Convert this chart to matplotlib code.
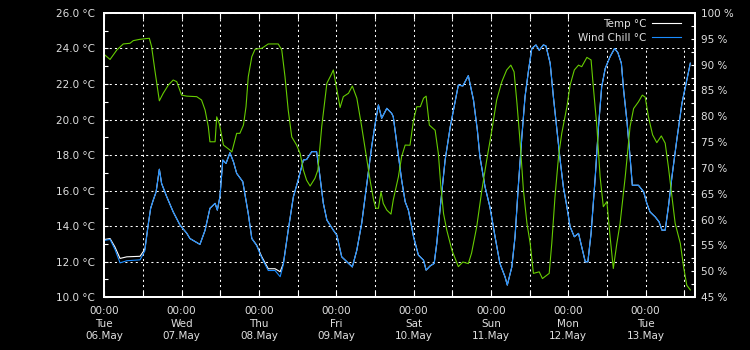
import matplotlib
matplotlib.use("Agg")
import matplotlib.pyplot as plt
import matplotlib.dates as mdates
from matplotlib.ticker import MultipleLocator, FormatStrFormatter
from datetime import datetime, timedelta

# hours since Tue 06.May 00:00
temp_hours = [0.2, 1.8, 3.3, 4.9, 7.0, 11.1, 12.6, 13.7, 14.4, 15.2, 16.1, 17.1, 17.8,
              19.4, 21.4, 23.5, 25.6, 26.6, 29.7, 31.3, 32.8, 34.4, 35.1, 35.9, 36.8,
              37.8, 39.0, 40.1, 41.1, 43.0, 44.7, 45.8, 47.3, 48.9, 50.9, 53.0, 54.6,
              55.6, 57.1, 58.7, 60.2, 61.8, 62.8, 64.4, 65.9, 66.7, 68.0, 69.1, 71.1,
              72.2, 73.7, 75.3, 77.0, 78.4, 79.9, 81.5, 83.0, 84.1, 85.1, 86.1, 87.7,
              89.2, 89.7, 90.8, 92.3, 93.4, 94.4, 96.0, 97.5, 99.1, 99.9, 101.1, 102.4,
              103.2, 104.2, 105.8, 107.4, 108.4, 109.9, 111.3, 112.0, 113.0, 114.6,
              115.8, 116.6, 118.2, 119.7, 121.3, 122.8, 124.4, 125.1, 126.5, 127.5,
              128.5, 129.6, 130.6, 131.7, 132.7, 134.0, 135.0, 136.3, 137.1, 138.4,
              139.4, 140.5, 141.5, 142.5, 143.6, 144.6, 145.9, 147.2, 148.2, 149.3,
              150.1, 151.1, 152.4, 153.4, 154.4, 155.5, 157.0, 158.4, 159.4, 160.5,
              161.2, 162.2, 163.2, 163.9, 165.8, 167.4, 168.4, 169.4, 171.0, 172.2,
              173.1, 174.1, 175.1, 176.2, 177.7, 179.3, 180.8, 181.9]
temp = [13.25, 13.3, 12.83, 12.18, 12.27, 12.3, 12.7, 14.15, 15.0, 15.46, 15.93, 17.2, 16.4,
        15.65, 14.8, 14.06, 13.6, 13.3, 12.97, 13.77, 15.0, 15.28, 14.9, 15.65, 17.72,
        17.53, 18.13, 17.62, 16.97, 16.5, 14.7, 13.3, 12.93, 12.27, 11.6, 11.6, 11.43,
        11.9, 13.77, 15.65, 16.6, 17.72, 17.75, 18.19, 18.19, 17.15, 15.28, 14.34, 13.77,
        13.49, 12.27, 11.99, 11.7, 12.65, 14.15, 16.4, 18.47, 19.78, 20.82, 20.07, 20.63,
        20.35, 20.16, 18.66, 16.6, 15.37, 14.9, 13.4, 12.37, 12.08, 11.52, 11.75, 11.9,
        13.02, 14.9, 17.72, 19.6, 20.54, 21.94, 21.89, 22.13, 22.47, 21.1,
        19.4, 17.9, 16.2, 15.08, 13.4, 11.9, 11.14, 10.68, 11.7, 13.4,
        16.2, 19.0, 21.28, 22.79, 24.0, 24.2, 23.9, 24.2, 24.14, 23.17,
        21.28, 19.4, 17.72, 16.2, 15.08, 13.96, 13.4, 13.59, 12.84, 11.99,
        11.99, 13.59, 16.78, 19.6, 21.85, 22.88, 23.54, 24.0, 23.77, 23.17,
        21.66, 19.97, 17.9, 16.3, 16.3, 15.93, 15.28, 14.8, 14.52, 14.24,
        13.77, 13.77, 15.08, 16.78, 18.85, 20.91, 22.23, 23.17]
wind_chill = [13.2, 13.25, 12.7, 11.93, 12.05, 12.1, 12.6, 14.15, 15.0, 15.46, 15.93, 17.2, 16.4,
              15.65, 14.8, 14.06, 13.6, 13.3, 12.97, 13.77, 15.0, 15.28, 14.9, 15.65, 17.72,
              17.53, 18.13, 17.62, 16.97, 16.5, 14.7, 13.3, 12.9, 12.2, 11.5, 11.5, 11.15,
              11.85, 13.77, 15.65, 16.6, 17.72, 17.75, 18.19, 18.19, 17.15, 15.28, 14.34, 13.77,
              13.49, 12.27, 11.99, 11.7, 12.65, 14.15, 16.4, 18.47, 19.78, 20.82, 20.07, 20.63,
              20.35, 20.16, 18.66, 16.6, 15.37, 14.9, 13.4, 12.37, 12.08, 11.52, 11.75, 11.9,
              13.02, 14.9, 17.72, 19.6, 20.54, 21.94, 21.89, 22.13, 22.47, 21.1,
              19.4, 17.9, 16.2, 15.08, 13.4, 11.9, 11.14, 10.68, 11.7, 13.4,
              16.2, 19.0, 21.28, 22.79, 24.0, 24.2, 23.9, 24.2, 24.14, 23.17,
              21.28, 19.4, 17.72, 16.2, 15.08, 13.96, 13.4, 13.59, 12.84, 11.99,
              11.99, 13.59, 16.78, 19.6, 21.85, 22.88, 23.54, 24.0, 23.77, 23.17,
              21.66, 19.97, 17.9, 16.3, 16.3, 15.93, 15.28, 14.8, 14.52, 14.24,
              13.77, 13.77, 15.08, 16.78, 18.85, 20.91, 22.23, 23.17]

hum_hours = [0.2, 1.8, 3.9, 5.9, 8.0, 9.0, 11.1, 14.0, 14.7, 15.7, 17.1, 18.3, 19.9, 21.4,
             22.5, 24.0, 25.6, 28.7, 30.2, 31.3, 32.3, 32.8, 34.4, 34.9, 35.7, 37.0, 39.0,
             39.6, 41.1, 42.1, 43.2, 44.0, 44.7, 45.8, 46.8, 48.9, 50.9, 54.0, 55.1, 56.1,
             57.1, 58.2, 59.7, 60.8, 61.8, 62.8, 63.9, 65.4, 66.3, 67.5, 69.1, 70.4, 71.1,
             72.2, 73.2, 74.2, 75.8, 77.0, 78.4, 79.9, 81.2, 82.5, 83.6, 84.3, 85.1, 85.9,
             86.6, 87.7, 89.0, 89.7, 91.3, 92.3, 93.4, 94.9, 96.0, 97.0, 98.1, 99.1, 99.9,
             100.9, 102.7, 103.7, 104.4, 105.3, 106.3, 107.9, 109.9, 111.3, 113.0, 114.0,
             115.6, 117.2, 118.7, 120.3, 121.8, 123.4, 124.9, 126.2, 127.2, 128.1, 129.1,
             130.1, 131.2, 132.2, 133.2, 135.0, 136.0, 138.1, 138.9, 139.9, 141.0, 142.0,
             143.6, 144.6, 145.9, 147.2, 148.2, 149.8, 151.1, 151.8, 152.9, 153.9, 154.9,
             156.0, 157.0, 158.0, 159.1, 160.1, 161.7, 163.2, 164.3, 165.8, 167.0, 167.9,
             168.9, 170.2, 171.5, 172.9, 174.1, 175.1, 176.2, 177.2, 178.8, 179.8, 180.8,
             181.9]
humidity = [91.86, 91.0, 92.83, 94.0, 94.13, 94.64, 94.9, 95.1, 93.47, 88.96, 83.0, 84.45,
            86.05, 87.02, 86.7, 84.1, 83.9, 83.8, 83.15, 81.2, 77.98, 75.07, 75.07, 79.9,
            78.6, 74.43, 73.47, 73.1, 76.7, 76.7, 78.3, 81.85, 87.66, 91.53, 92.96, 93.16,
            94.0, 94.0, 92.83, 87.66, 81.2, 76.0, 74.43, 72.8, 69.6, 67.64, 66.5, 68.0, 69.6,
            78.0, 86.4, 88.0, 88.96, 85.1, 81.7, 83.8, 84.45, 85.86, 83.5, 78.0, 72.8, 67.64,
            63.8, 62.2, 62.2, 65.4, 63.14, 61.85, 61.07, 63.8, 68.3, 72.2, 74.43, 74.4, 79.3,
            81.85, 81.85, 83.5, 83.9, 78.3, 77.3, 72.8, 67.0, 61.2, 58.0, 54.1, 50.9, 51.8,
            51.5, 53.5, 58.6, 65.7, 71.5, 77.3, 83.15, 86.7, 88.96, 89.9, 88.6, 82.5, 74.8,
            65.7, 59.27, 55.4, 49.6, 49.9, 48.6, 49.6, 55.4, 64.4, 72.2, 76.7, 81.85, 86.05,
            88.96, 89.9, 89.6, 91.4, 90.9, 85.7, 78.0, 68.3, 62.5, 63.5, 56.7, 50.55, 55.4,
            59.27, 68.3, 78.0, 81.5, 82.8, 84.1, 83.7, 79.9, 76.4, 74.9, 76.2, 74.8, 70.2,
            64.4, 59.27, 55.4, 50.9, 47.3, 46.4]

start = datetime(2025, 5, 6)
end_hours = 183.2

fg = '#e0e0e0'
plt.rcParams['font.family'] = 'DejaVu Sans'
plt.rcParams['font.size'] = 7.5

def to_dates(hours):
    return [start + timedelta(hours=h) for h in hours]

fig = plt.figure(figsize=(7.5, 3.5), dpi=100, facecolor='black')
ax = fig.add_axes([0.139, 0.151, 0.787, 0.812])
ax.set_facecolor('black')
ax2 = ax.twinx()

l1, = ax.plot(to_dates(temp_hours), temp, color='white', lw=0.8, label='Temp °C')
l2, = ax.plot(to_dates(temp_hours), wind_chill, color='#1a8cff', lw=0.8, label='Wind Chill °C')
ax2.plot(to_dates(hum_hours), humidity, color='#66cc00', lw=0.8)

ax.set_xlim(start, start + timedelta(hours=end_hours))
ax.set_ylim(10, 26)
ax2.set_ylim(45, 100)

ax.xaxis.set_major_locator(mdates.DayLocator())
ax.xaxis.set_minor_locator(mdates.HourLocator(byhour=[12]))
ax.xaxis.set_major_formatter(mdates.DateFormatter('%H:%M\n%a\n%d.%b'))
ax.yaxis.set_major_locator(MultipleLocator(2))
ax.yaxis.set_minor_locator(MultipleLocator(1))
ax.yaxis.set_major_formatter(FormatStrFormatter('%.1f °C'))
ax2.yaxis.set_major_locator(MultipleLocator(5))
ax2.yaxis.set_minor_locator(MultipleLocator(2.5))
ax2.yaxis.set_major_formatter(FormatStrFormatter('%d %%'))

ax.grid(True, which='major', axis='y', color='white', lw=0.75, linestyle=(0, (2, 3)))
ax.grid(True, which='both', axis='x', color='white', lw=0.75, linestyle=(0, (2, 3)))

ax.tick_params(axis='x', which='both', direction='in', top=True, length=4, width=0.8,
               color='white', labelcolor=fg, pad=6.5)
ax.tick_params(axis='y', which='both', direction='in', length=3, width=0.8,
               color='white', labelcolor=fg, pad=7)
ax2.tick_params(axis='y', which='both', direction='in', length=3, width=0.8,
                color='white', labelcolor=fg, pad=5)
for lab in ax.get_xticklabels():
    lab.set_linespacing(1.3)

for a in (ax, ax2):
    for sp in a.spines.values():
        sp.set_color('white')
        sp.set_linewidth(1.4)

# legend on the twin axes so its black box sits over the grid
leg = ax2.legend(handles=[l1, l2], loc='upper right',
                 bbox_to_anchor=(686 / 750, 1 - 14 / 350),
                 bbox_transform=fig.transFigure, frameon=True, fancybox=False,
                 facecolor='black', edgecolor='none', framealpha=1,
                 markerfirst=False, borderpad=0.45, borderaxespad=0,
                 handlelength=2.8, handletextpad=0.55,
                 labelspacing=0.4, labelcolor=fg)

fig.savefig('out.png', dpi=100, facecolor='black')
